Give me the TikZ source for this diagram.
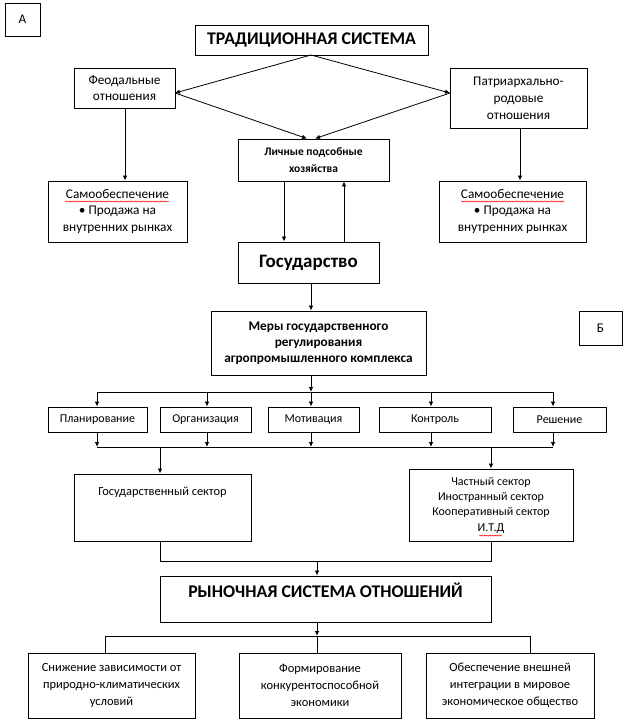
\documentclass[tikz,border=0pt]{standalone}
\usepackage{fontspec}
\setmainfont{Carlito}
\usetikzlibrary{arrows.meta,decorations.pathmorphing,calc}
\begin{document}
\begin{tikzpicture}[x=1pt,y=-1pt,
  box/.style={draw, line width=0.9pt, inner sep=0pt, align=center},
  txt/.style={inner sep=0pt, align=center},
  arr/.style={-{Latex[length=5pt,width=4.5pt]}, line width=0.8pt},
  ln/.style={line width=0.8pt},
  wavy/.style={draw=red, line width=0.5pt, decorate, decoration={snake, amplitude=0.6pt, segment length=2.5pt}},
  fBig/.style={font=\fontsize{17.8}{21}\selectfont\bfseries},
  fMed/.style={font=\fontsize{13.3}{16.8}\selectfont},
  fSm/.style={font=\fontsize{12}{15.3}\selectfont},
  fBot/.style={font=\fontsize{12.5}{17}\selectfont}]
\useasboundingbox (0,0) rectangle (627,722);
\fill[white] (0,0) rectangle (627,722);

% --- part A ---
\node[box, fMed, minimum width=35pt, minimum height=33pt] (A) at (22.5,19.5) {А};
\node[box, fBig, minimum width=233pt, minimum height=30pt] (trad) at (311.5,40) {ТРАДИЦИОННАЯ СИСТЕМА};
\node[box, fMed, minimum width=101pt, minimum height=40pt] (feod) at (124.5,88) {Феодальные\\отношения};
\node[box, fMed, minimum width=137pt, minimum height=60pt] (patr) at (518.5,98) {Патриархально-\\родовые\\отношения};
\node[box, font=\fontsize{11.5}{17}\selectfont\bfseries, minimum width=151pt, minimum height=42pt] (lich) at (313.5,160) {Личные подсобные\\хозяйства};
\node[box, fMed, minimum width=139pt, minimum height=61pt] (samoL) at (117.5,211.5) {Самообеспечение\\• Продажа на\\внутренних рынках};
\node[box, fMed, minimum width=147pt, minimum height=61pt] (samoR) at (512.5,211.5) {Самообеспечение\\• Продажа на\\внутренних рынках};
\node[box, font=\fontsize{19}{21}\selectfont\bfseries, minimum width=141pt, minimum height=41pt] (gosud) at (308.5,262.5) {Государство};

\coordinate (apex) at (311,55);
\coordinate (fR) at (175,93);
\coordinate (pL) at (450,93);
\draw[arr] (apex) -- (fR);
\draw[arr] (apex) -- (pL);
\draw[arr] (fR) -- (lich.north -| 307,0);
\draw[arr] (pL) -- (lich.north -| 315,0);
\draw[arr] (feod.south -| 125,0) -- (samoL.north -| 125,0);
\draw[arr] (patr.south -| 520,0) -- (samoR.north -| 520,0);
\draw[arr] (lich.south -| 284,0) -- (gosud.north -| 284,0);
\draw[arr] (gosud.north -| 344,0) -- (lich.south -| 344,0);

% spell-check underlines
\draw[wavy] (65,201.5) -- (169,201.5);
\draw[wavy] (461,201.5) -- (564,201.5);

% --- part B ---
\node[box, font=\fontsize{13.3}{16}\selectfont\bfseries, minimum width=215pt, minimum height=64pt] (mery) at (318.5,343) {Меры государственного\\регулирования\\агропромышленного комплекса};
\node[box, fMed, minimum width=43pt, minimum height=34pt] (B) at (600.5,328) {Б};
\draw[arr] (gosud.south -| 311,0) -- (mery.north -| 311,0);

\node[box, fSm, minimum width=99pt, minimum height=25pt] (plan) at (97.5,419.5) {Планирование};
\node[box, fSm, minimum width=91pt, minimum height=25pt] (org) at (205.5,419.5) {Организация};
\node[box, fSm, minimum width=91pt, minimum height=25pt] (motiv) at (313.5,419.5) {Мотивация};
\node[box, fSm, minimum width=112pt, minimum height=25pt] (kontr) at (435,419.5) {Контроль};
\node[box, fSm, minimum width=93pt, minimum height=25pt] (resh) at (559.5,419.5) {Решение};

\coordinate (t1) at (97,392);
\coordinate (t2) at (207,392);
\coordinate (t3) at (311,392);
\coordinate (t4) at (431,392);
\coordinate (t5) at (553,392);
\coordinate (u1) at (97,447);
\coordinate (u2) at (207,447);
\coordinate (u3) at (311,447);
\coordinate (u4) at (431,447);
\coordinate (u5) at (553,447);
\draw[arr] (mery.south -| t3) -- (t3);
\draw[ln] (t1) -- (t5);
\draw[ln] (u1) -- (u5);
\foreach \i/\b in {1/plan,2/org,3/motiv,4/kontr,5/resh}{
  \draw[arr] (t\i) -- (\b.north -| t\i);
  \draw[arr] (\b.south -| u\i) -- (u\i);
}

\node[box, minimum width=177pt, minimum height=67pt] (gs) at (162.5,507.5) {};
\node[txt, font=\fontsize{12.4}{15.3}\selectfont] (gstxt) at (162.5,492) {Государственный сектор};
\node[box, fSm, minimum width=164pt, minimum height=72pt] (cs) at (491,505) {Частный сектор\\Иностранный сектор\\Кооперативный сектор\\И.Т.Д};
\draw[wavy] (479,535.5) -- (502,535.5);

\coordinate (v1) at (160,447);
\coordinate (v2) at (491,447);
\draw[arr] (v1) -- (gs.north -| v1);
\draw[arr] (v2) -- (cs.north -| v2);

\node[box, fBig, text height=12pt, text depth=15pt, minimum width=331pt, minimum height=46pt] (ryn) at (325.5,599) {РЫНОЧНАЯ СИСТЕМА ОТНОШЕНИЙ};

\coordinate (w1) at (160,561);
\coordinate (w2) at (491,561);
\coordinate (w3) at (317,561);
\draw[ln] (gs.south -| w1) -- (w1) -- (w2) -- (cs.south -| w2);
\draw[arr] (w3) -- (ryn.north -| w3);

\node[box, fBot, minimum width=167pt, minimum height=65pt] (b1) at (111.5,685.5) {Снижение зависимости от\\природно-климатических\\условий};
\node[box, fBot, minimum width=162pt, minimum height=65pt] (b2) at (320,685.5) {Формирование\\конкурентоспособной\\экономики};
\node[box, fBot, minimum width=168pt, minimum height=65pt] (b3) at (510,685.5) {Обеспечение внешней\\интеграции в мировое\\экономическое общество};

\coordinate (z1) at (105,636);
\coordinate (z2) at (317,636);
\coordinate (z3) at (530,636);
\draw[arr] (ryn.south -| z2) -- (z2);
\draw[ln] (z1) -- (z3);
\draw[ln] (z1) -- (b1.north -| z1);
\draw[ln] (z2) -- (b2.north -| z2);
\draw[ln] (z3) -- (b3.north -| z3);
\end{tikzpicture}
\end{document}
